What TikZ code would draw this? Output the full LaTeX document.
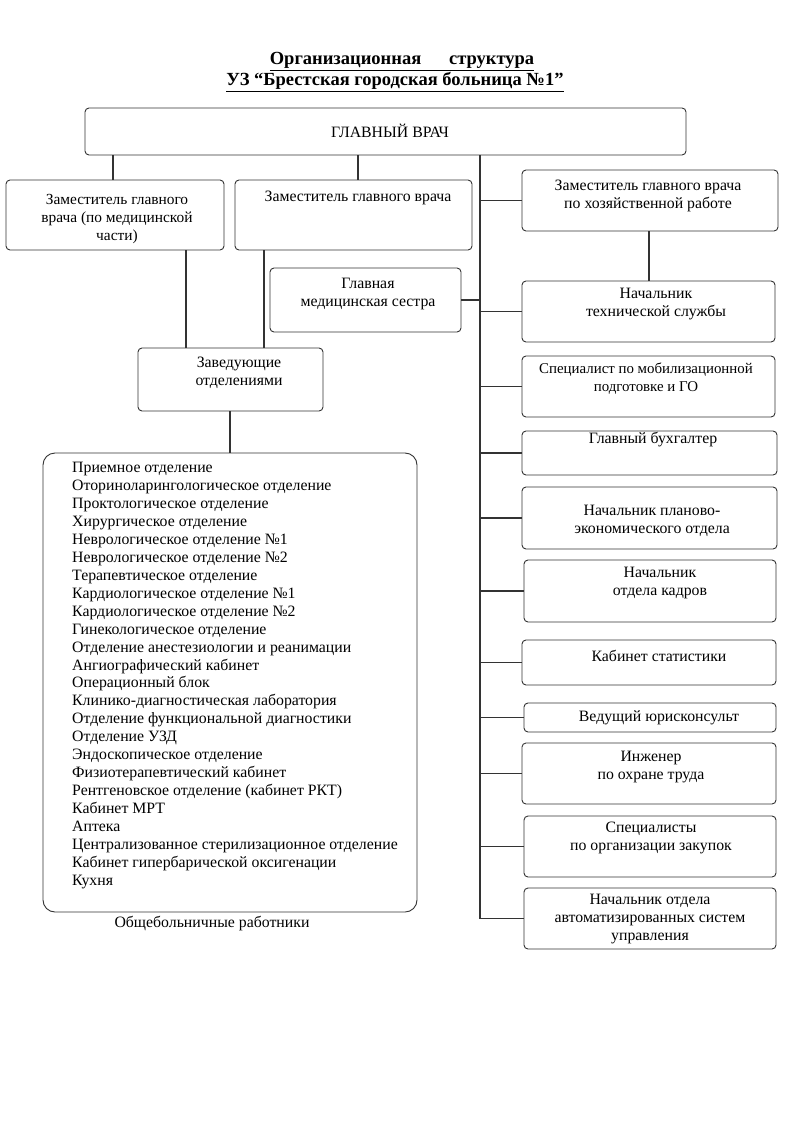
\documentclass[tikz,border=0pt]{standalone}
\usepackage{fontspec}
\setmainfont{Liberation Serif}
\usetikzlibrary{fit}
\tikzset{
  box/.style={draw=black!80, line width=0.9pt, rounded corners=4pt, inner sep=0pt},
  bigbox/.style={draw=black!80, line width=0.9pt, rounded corners=12pt, inner sep=0pt},
  conn/.style={draw=black!80, line width=1.1pt},
  txt/.style={align=center, inner sep=0pt, font=\fontsize{15.8}{18}\selectfont},
  lst/.style={align=left, inner sep=0pt, font=\fontsize{15.8}{17.95}\selectfont, anchor=north west},
  ttl/.style={font=\bfseries\fontsize{18.5}{18.5}\selectfont, inner sep=0pt, anchor=base}
}
\begin{document}
\begin{tikzpicture}[x=1pt,y=-1pt]
\useasboundingbox[fill=white] (0,0) rectangle (794,1123);
% title
\node[ttl] (title1) at (402,65) {\underline{Организационная\hspace{1.5em}структура}};
\node[ttl] (title2) at (395,86) {\underline{УЗ “Брестская городская больница №1”}};
% boxes
\node[box, fit={(85,108) (686,155)}] (gv) {};
\node[txt] (gv-t) at (390,131) {ГЛАВНЫЙ ВРАЧ};
\node[box, fit={(6,180) (224,250)}] (dmed) {};
\node[txt, font=\fontsize{15.4}{18}\selectfont] (dmed-t) at (117,219) {Заместитель главного\\врача (по медицинской\\части)};
\node[box, fit={(235,180) (472,250)}] (d2) {};
\node[txt] (d2-t) at (358,198) {Заместитель главного врача};
\node[box, fit={(522,170) (778,231)}] (dhoz) {};
\node[txt] (dhoz-t) at (648,196) {Заместитель главного врача\\по хозяйственной работе};
\node[box, fit={(270,268) (461,332)}] (sestra) {};
\node[txt] (sestra-t) at (368,294) {Главная\\медицинская сестра};
\node[box, fit={(522,281) (775,342)}] (teh) {};
\node[txt] (teh-t) at (656,304) {Начальник\\технической службы};
\node[box, fit={(138,348) (323,411)}] (zav) {};
\node[txt] (zav-t) at (239,373) {Заведующие\\отделениями};
\node[bigbox, fit={(43,453) (417,912)}] (list) {};
\node[lst] (list-t) at (72,462) {Приемное отделение\\
Оториноларингологическое отделение\\
Проктологическое отделение\\
Хирургическое отделение\\
Неврологическое отделение №1\\
Неврологическое отделение №2\\
Терапевтическое отделение\\
Кардиологическое отделение №1\\
Кардиологическое отделение №2\\
Гинекологическое отделение\\
Отделение анестезиологии и реанимации\\
Ангиографический кабинет\\
Операционный блок\\
Клинико-диагностическая лаборатория\\
Отделение функциональной диагностики\\
Отделение УЗД\\
Эндоскопическое отделение\\
Физиотерапевтический кабинет\\
Рентгеновское отделение (кабинет РКТ)\\
Кабинет МРТ\\
Аптека\\
Централизованное стерилизационное отделение\\
Кабинет гипербарической оксигенации\\
Кухня};
\node[txt] (obsh) at (212,924) {Общебольничные работники};
\node[box, fit={(522,356) (775,417)}] (mob) {};
\node[txt, font=\fontsize{14.9}{18}\selectfont] (mob-t) at (646,379) {Специалист по мобилизационной\\подготовке и ГО};
\node[box, fit={(522,431) (777,475)}] (buh) {};
\node[txt] (buh-t) at (653,440) {Главный бухгалтер};
\node[box, fit={(522,487) (777,549)}] (plan) {};
\node[txt] (plan-t) at (652,521) {Начальник планово-\\экономического отдела};
\node[box, fit={(524,560) (776,622)}] (kadr) {};
\node[txt] (kadr-t) at (660,583) {Начальник\\отдела кадров};
\node[box, fit={(522,640) (776,685)}] (stat) {};
\node[txt] (stat-t) at (659,656) {Кабинет статистики};
\node[box, fit={(524,703) (776,732)}] (yur) {};
\node[txt] (yur-t) at (659,718) {Ведущий юрисконсульт};
\node[box, fit={(522,743) (776,804)}] (ing) {};
\node[txt] (ing-t) at (651,767) {Инженер\\по охране труда};
\node[box, fit={(524,816) (776,877)}] (zak) {};
\node[txt] (zak-t) at (651,838) {Специалисты\\по организации закупок};
\node[box, fit={(524,888) (776,949)}] (asu) {};
\node[txt] (asu-t) at (650,919) {Начальник отдела\\автоматизированных систем\\управления};
% connectors
\coordinate (spine) at (480,0);
\draw[conn] (gv.south -| 113,0) -- (dmed.north -| 113,0);
\draw[conn] (gv.south -| 358,0) -- (d2.north -| 358,0);
\draw[conn] (gv.south -| spine) -- (spine |- asu.west) -- (asu.west);
\foreach \b in {dhoz,teh,mob,buh,plan,kadr,stat,yur,ing,zak}
  \draw[conn] (spine |- \b.west) -- (\b.west);
\draw[conn] (sestra.east) -- (spine |- sestra.east);
\draw[conn] (dhoz.south -| 649,0) -- (teh.north -| 649,0);
\draw[conn] (dmed.south -| 186,0) -- (zav.north -| 186,0);
\draw[conn] (d2.south -| 264,0) -- (zav.north -| 264,0);
\draw[conn] (zav.south -| 230,0) -- (list.north -| 230,0);
\end{tikzpicture}
\end{document}
